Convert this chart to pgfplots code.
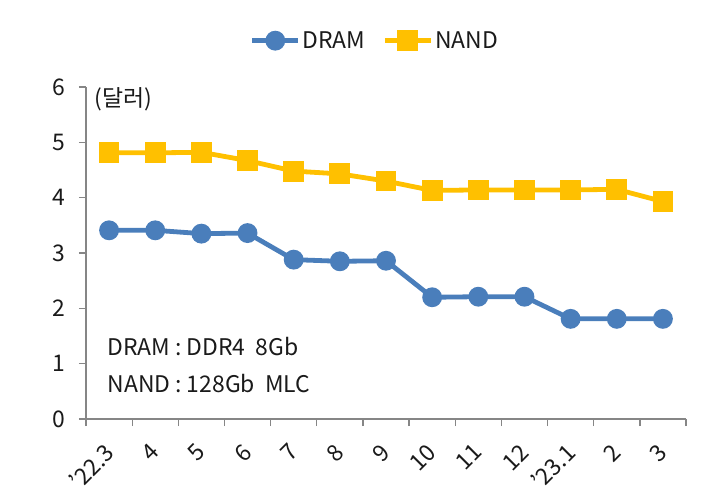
\documentclass[border=0pt]{standalone}
\usepackage{fontspec}
\setmainfont{Noto Sans CJK KR}
\usepackage{pgfplots}
\pgfplotsset{compat=1.18}
\definecolor{dram}{HTML}{4A7EBB}
\definecolor{nand}{HTML}{FFC000}
\definecolor{axgray}{HTML}{868686}
\definecolor{txt}{HTML}{1A1A1A}
\begin{document}
\begin{tikzpicture}
\begin{axis}[
  at={(0bp,0bp)}, anchor=south west,
  scale only axis, width=600bp, height=332bp,
  xmin=-0.5, xmax=12.5, ymin=0, ymax=6,
  axis lines*=left,
  axis line style={axgray, line width=1.3bp},
  tick style={axgray, line width=1.3bp},
  tick align=outside,
  major tick length=7bp,
  xtick={-0.5,0.5,...,12.5},
  xticklabels={},
  extra x ticks={0,1,...,12},
  extra x tick labels={'22.3,4,5,6,7,8,9,10,11,12,'23.1,2,3},
  extra x tick style={major tick length=0pt,
    tick label style={xshift=-6bp, yshift=-23bp, rotate=45, anchor=north east, inner sep=0pt, font=\fontsize{23}{26}\selectfont, text=txt}},
  ytick={0,1,...,6},
  yticklabel style={font=\fontsize{23}{26}\selectfont, text=txt, xshift=-10bp},
  /pgf/number format/assume math mode=true,
  legend style={at={(0.5,1)}, anchor=south, xshift=-11bp, yshift=33bp, draw=none, fill=none,
    font=\fontsize{23}{26}\selectfont, text=txt, legend columns=2,
    /tikz/every even column/.append style={column sep=15bp}},
  legend image code/.code={\draw[mark repeat=2,mark phase=2,#1] plot coordinates {(0bp,0bp) (23bp,0bp) (46bp,0bp)};},
  clip=false,
]
\addplot[dram, line width=4.8bp, mark=*, mark size=7.5bp, mark options={solid}] coordinates {
(0,3.41) (1,3.41) (2,3.35) (3,3.36) (4,2.88) (5,2.85) (6,2.86) (7,2.20) (8,2.21) (9,2.21) (10,1.81) (11,1.81) (12,1.81)};
\addlegendentry{DRAM}
\addplot[nand, line width=4.8bp, mark=square*, mark size=8bp, mark options={solid}] coordinates {
(0,4.81) (1,4.81) (2,4.82) (3,4.67) (4,4.48) (5,4.43) (6,4.30) (7,4.13) (8,4.14) (9,4.14) (10,4.14) (11,4.15) (12,3.93)};
\addlegendentry{NAND}
\node[anchor=west, text=txt, font=\fontsize{23}{26}\selectfont] at (rel axis cs:0.008,0.962) {(달러)};
\node[anchor=west, text=txt, font=\fontsize{23}{26}\selectfont] at (rel axis cs:0.03,0.217) {DRAM : DDR4\ \ 8Gb};
\node[anchor=west, text=txt, font=\fontsize{23}{26}\selectfont] at (rel axis cs:0.03,0.108) {NAND : 128Gb\ \ MLC};
\end{axis}
\path[use as bounding box] (-86bp,-84bp) rectangle (635bp,419bp);
\end{tikzpicture}
\end{document}
